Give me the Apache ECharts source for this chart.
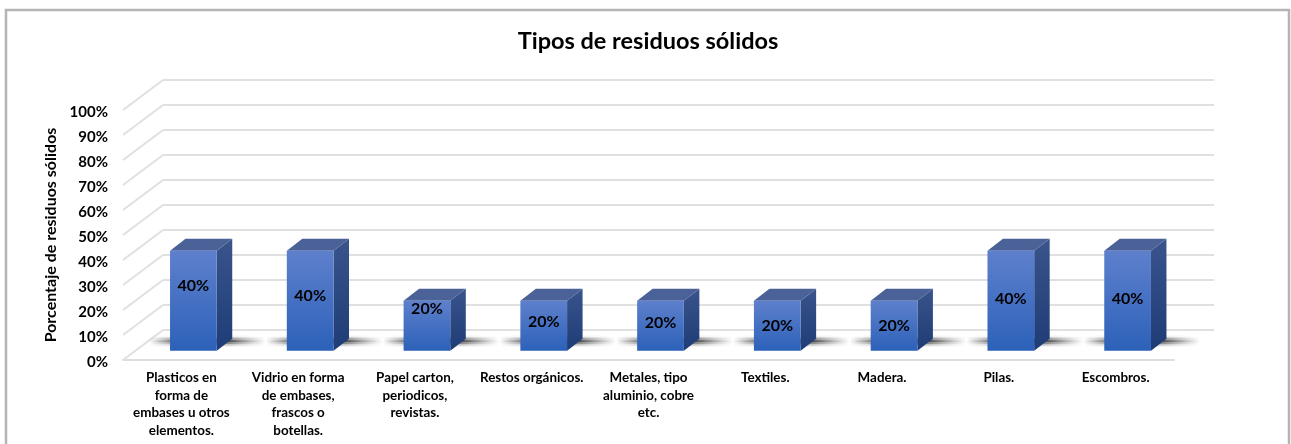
<!DOCTYPE html>
<html>
<head>
<meta charset="utf-8">
<title>Tipos de residuos sólidos</title>
<script src="https://cdn.jsdelivr.net/npm/echarts@6/dist/echarts.min.js"></script>
<style>
  html, body { margin: 0; padding: 0; background: #fff; overflow: hidden; }
  #chart { width: 1291px; height: 444px; }
</style>
</head>
<body>
<div id="chart"></div>
<script>
const categories = [
  'Plasticos en\nforma de\nembases u otros\nelementos.',
  'Vidrio en forma\nde embases,\nfrascos o\nbotellas.',
  'Papel carton,\nperiodicos,\nrevistas.',
  'Restos orgánicos.',
  'Metales, tipo\naluminio, cobre\netc.',
  'Textiles.',
  'Madera.',
  'Pilas.',
  'Escombros.'
]
const values = [40, 40, 20, 20, 20, 20, 20, 40, 40]
const wallTicks = [0, 10, 20, 30, 40, 50, 60, 70, 80, 90, 100]
// altura de cada etiqueta dentro de su barra (en el original estan movidas a mano)
const labelHeights = [25.8, 21.8, 16.7, 11.5, 11, 9.9, 9.9, 20.7, 20.7]

// profundidad de la caja falsa 3D
const wallDx = 40
const wallDy = -30
const planeDx = 12
const planeDy = -9.3
const barDx = 15.5
const barDy = -12
const barRatio = 0.4
const shadowRows = [0.08, 0.3, 0.6, 0.9, 0.9, 0.6, 0.3, 0.08]

const grad = (a, b) => new echarts.graphic.LinearGradient(0, 0, 0, 1, [
  { offset: 0, color: a },
  { offset: 1, color: b }
])
const fade = (stops) => new echarts.graphic.LinearGradient(0, 0, 1, 0, stops)

const chart = echarts.init(document.getElementById('chart'))

const renderWall = (params, api) => {
  const y = api.coord([0, api.value(0)])[1]
  const x = params.coordSys.x
  return {
    type: 'line',
    shape: { x1: x, y1: y, x2: x + wallDx, y2: y + wallDy },
    style: { stroke: '#e0e0e0', lineWidth: 2 }
  }
}

const renderShadow = (params, api) => {
  const i = api.value(0)
  const c = api.coord([i, 0])
  const w = api.size([1, 0])[0] * barRatio
  const x = c[0] + planeDx - w / 2
  const y = c[1] - 24.5
  const children = shadowRows.map((o, r) => ({
    type: 'rect',
    shape: { x: x - 21, y: y + r * 1.4, width: w + 70, height: 1.5 },
    style: {
      opacity: o,
      fill: fade([
        { offset: 0, color: 'rgba(80,80,80,0)' },
        { offset: 0.18, color: 'rgba(80,80,80,0.7)' },
        { offset: 0.68, color: 'rgba(60,60,60,1)' },
        { offset: 1, color: 'rgba(110,110,110,0)' }
      ])
    }
  }))
  return { type: 'group', children }
}

const renderBar = (params, api) => {
  const i = api.value(0)
  const base = api.coord([i, 0])
  const top = api.coord([i, api.value(1)])
  const w = api.size([1, 0])[0] * barRatio
  const l = base[0] + planeDx - w / 2
  const r = l + w
  const yb = base[1] + planeDy
  const yt = top[1] + planeDy
  const labelY = api.coord([i, labelHeights[i]])[1] + planeDy
  return {
    type: 'group',
    children: [
      {
        type: 'polygon',
        shape: { points: [[r, yt], [r + barDx, yt + barDy], [r + barDx, yb + barDy], [r, yb]] },
        style: { fill: grad('#3a548c', '#1e3c76') }
      },
      {
        type: 'polygon',
        shape: { points: [[l, yt], [l + barDx, yt + barDy], [r + barDx, yt + barDy], [r, yt]] },
        style: { fill: '#4a6298' }
      },
      {
        type: 'rect',
        shape: { x: l, y: yt, width: w, height: yb - yt },
        style: { fill: grad('#5e80cc', '#2c61b9') }
      },
      {
        type: 'text',
        style: {
          text: api.value(1) + '%',
          x: (l + r) / 2,
          y: labelY,
          align: 'center',
          verticalAlign: 'middle',
          fill: '#000',
          font: 'bold 16px Lato'
        }
      }
    ]
  }
}

chart.setOption({
  animation: false,
  backgroundColor: '#fff',
  textStyle: { fontFamily: 'Lato' },
  title: {
    text: 'Tipos de residuos sólidos',
    left: 643,
    top: 24,
    textAlign: 'center',
    textStyle: { fontFamily: 'Lato', fontSize: 23.5, fontWeight: 'bold', color: '#000' }
  },
  graphic: [
    {
      type: 'rect',
      silent: true,
      z: -1,
      shape: { x: 6, y: 10, width: 1283, height: 460 },
      style: { fill: 'none', stroke: '#b4b4b4', lineWidth: 2.5 }
    }
  ],
  grid: [
    { left: 123, top: 110, width: 1051, height: 250 },
    { left: 163, top: 80, width: 1051, height: 250 },
    // solo para bajar las etiquetas del eje 2px, como en el original
    { left: 123, top: 112, width: 1051, height: 250 }
  ],
  xAxis: [
    {
      type: 'category',
      gridIndex: 0,
      data: categories,
      axisLine: { lineStyle: { color: '#dedede', width: 2 } },
      axisTick: { show: false },
      axisLabel: {
        interval: 0,
        margin: 9,
        fontFamily: 'Lato',
        fontSize: 13.4,
        fontWeight: 'bold',
        lineHeight: 17.5,
        color: '#000'
      }
    },
    { type: 'category', gridIndex: 1, data: categories, show: false },
    { type: 'category', gridIndex: 2, data: categories, show: false }
  ],
  yAxis: [
    {
      type: 'value',
      gridIndex: 0,
      min: 0,
      max: 100,
      interval: 10,
      name: 'Porcentaje de residuos sólidos',
      nameLocation: 'middle',
      nameGap: 64,
      nameTextStyle: { fontFamily: 'Lato', fontSize: 16, fontWeight: 'bold', color: '#000' },
      axisLine: { show: false },
      axisTick: { show: false },
      splitLine: { show: false },
      axisLabel: { show: false }
    },
    {
      type: 'value',
      gridIndex: 1,
      min: 0,
      max: 100,
      interval: 10,
      axisLine: { show: false },
      axisTick: { show: false },
      axisLabel: { show: false },
      splitLine: { show: true, lineStyle: { color: '#e0e0e0', width: 2 } }
    },
    {
      type: 'value',
      gridIndex: 2,
      min: 0,
      max: 100,
      interval: 10,
      axisLine: { show: false },
      axisTick: { show: false },
      splitLine: { show: false },
      axisLabel: {
        formatter: '{value}%',
        margin: 15,
        fontFamily: 'Lato',
        fontSize: 15,
        fontWeight: 'bold',
        color: '#000'
      }
    }
  ],
  series: [
    {
      name: 'pared',
      type: 'custom',
      xAxisIndex: 0,
      yAxisIndex: 0,
      clip: false,
      silent: true,
      z: 1,
      renderItem: renderWall,
      encode: { y: 0 },
      data: wallTicks.map((t) => [t])
    },
    {
      name: 'sombra',
      type: 'custom',
      xAxisIndex: 0,
      yAxisIndex: 0,
      clip: false,
      silent: true,
      z: 2,
      renderItem: renderShadow,
      encode: { x: 0, y: 1 },
      data: values.map((v, i) => [i, v])
    },
    {
      name: 'Tipos de residuos sólidos',
      type: 'custom',
      xAxisIndex: 0,
      yAxisIndex: 0,
      clip: false,
      z: 3,
      renderItem: renderBar,
      encode: { x: 0, y: 1 },
      data: values.map((v, i) => [i, v])
    }
  ]
})

window.addEventListener('resize', () => {
  chart.resize()
})
</script>
</body>
</html>
